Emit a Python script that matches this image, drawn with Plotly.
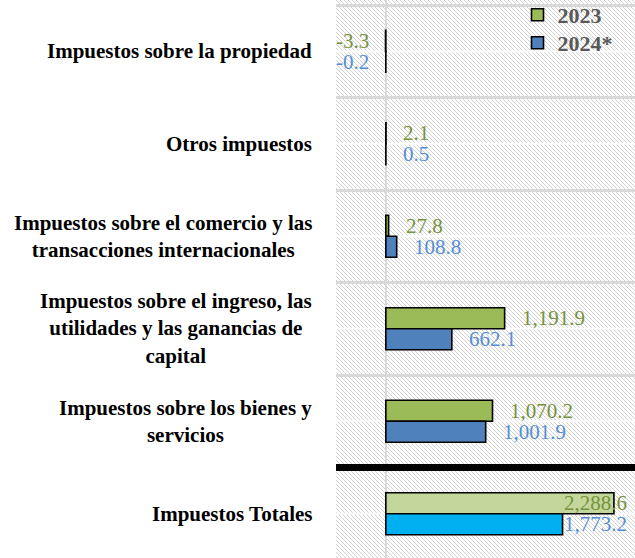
import base64
import plotly.graph_objects as go

# ---------------- data ----------------
categories = [
    "Impuestos sobre la propiedad",
    "Otros impuestos",
    "Impuestos sobre el comercio y las<br>transacciones internacionales",
    "Impuestos sobre el ingreso, las<br>utilidades y las ganancias de<br>capital",
    "Impuestos sobre los bienes y<br>servicios",
    "Impuestos Totales",
]
series_names = ["2023", "2024*"]
values_2023 = [-3.3, 2.1, 27.8, 1191.9, 1070.2, 2288.6]
values_2024 = [-0.2, 0.5, 108.8, 662.1, 1001.9, 1773.2]

# ---------------- styles ----------------
FONT = "Liberation Serif"
bar_colors_2023 = ["#9BBB59"] * 5 + ["#C3D69B"]
bar_colors_2024 = ["#4F81BD"] * 5 + ["#00B0F0"]
label_color_2023 = "#76923C"
label_color_2024 = "#558ED5"
GRID = "#d9d9d9"

# hatched plot background as an inline svg image
svg = (
    "<svg xmlns='http://www.w3.org/2000/svg' width='299' height='558'>"
    "<defs><pattern id='p' width='4' height='4' patternUnits='userSpaceOnUse'>"
    "<path d='M0,0 L4,4 M-1,3 L1,5 M3,-1 L5,1' stroke='#d2d2d2' stroke-width='1'/>"
    "</pattern></defs>"
    "<rect width='100%' height='100%' fill='white'/>"
    "<rect width='100%' height='100%' fill='url(#p)'/></svg>"
)
hatch_src = "data:image/svg+xml;base64," + base64.b64encode(svg.encode()).decode()

fig = go.Figure()
fig.add_trace(go.Bar(
    y=categories, x=values_2023, name=series_names[0], orientation="h",
    marker=dict(color=bar_colors_2023, line=dict(color="black", width=1.6)),
    hoverinfo="skip", legend="legend",
))
fig.add_trace(go.Bar(
    y=categories, x=values_2024, name=series_names[1], orientation="h",
    marker=dict(color=bar_colors_2024, line=dict(color="black", width=1.6)),
    hoverinfo="skip", legend="legend2",
))

annotations = []
# category labels
for cat in categories:
    annotations.append(dict(
        xref="paper", x=0, xanchor="right", xshift=-22,
        yref="y", y=cat, yanchor="middle",
        text=cat, showarrow=False, align="center",
        font=dict(family=FONT, size=21, color="black", weight="bold"),
    ))

# value labels
last = len(categories) - 1
for vals, col, shift in ((values_2023, label_color_2023, 10.5),
                         (values_2024, label_color_2024, -10.5)):
    for i, (cat, v) in enumerate(zip(categories, vals)):
        txt = f"{v:,.1f}"
        if i == last:
            a = dict(xref="paper", x=1, xanchor="right", xshift=-6)
        elif v < 0:
            a = dict(xref="x", x=v, xanchor="right", xshift=-15)
        else:
            a = dict(xref="x", x=v, xanchor="left", xshift=15)
        a.update(yref="y", y=cat, yanchor="middle", yshift=shift,
                 text=txt, showarrow=False,
                 font=dict(family=FONT, size=21, color=col))
        annotations.append(a)

shapes = []
# faint lines through category centres
for cat in categories:
    shapes.append(dict(type="line", xref="paper", x0=0, x1=1, yref="y", y0=cat, y1=cat,
                       line=dict(color="rgba(255,255,255,0.9)", width=2), layer="below"))
# thick separator above the totals
shapes.append(dict(type="line", xref="paper", x0=0, x1=1, yref="y",
                   y0=len(categories) - 1.5, y1=len(categories) - 1.5,
                   line=dict(color="black", width=7), layer="above"))

legend_style = dict(
    xanchor="left", yanchor="top",
    bgcolor="rgba(0,0,0,0)", itemwidth=30,
    font=dict(family=FONT, size=22, color="#595959", weight="bold"),
)

fig.update_layout(
    width=635, height=558,
    margin=dict(l=336, r=0, t=0, b=0, autoexpand=False),
    paper_bgcolor="white",
    plot_bgcolor="rgba(0,0,0,0)",
    barmode="group", bargap=0.546, bargroupgap=0,
    showlegend=True,
    legend=dict(x=0.607, y=1 + 6 / 558, **legend_style),
    legend2=dict(x=0.607, y=1 - 22 / 558, **legend_style),
    xaxis=dict(range=[-500, 2500], tickvals=[0], showticklabels=False,
               showgrid=True, gridcolor=GRID, gridwidth=2, zeroline=False,
               ticks="", fixedrange=True),
    yaxis=dict(type="category", range=[5.478, -0.554], autorange=False,
               tickson="boundaries", showgrid=True, gridcolor=GRID, gridwidth=3,
               showticklabels=False, ticks="", zeroline=False, fixedrange=True),
    images=[dict(source=hatch_src, xref="paper", yref="paper", x=0, y=1,
                 sizex=1, sizey=1, xanchor="left", yanchor="top",
                 sizing="stretch", layer="below")],
    annotations=annotations,
    shapes=shapes,
)

fig.write_html(
    "out.html",
    config={"displayModeBar": False},
    post_script="document.body.style.margin='0px';document.body.style.overflow='hidden';",
)
